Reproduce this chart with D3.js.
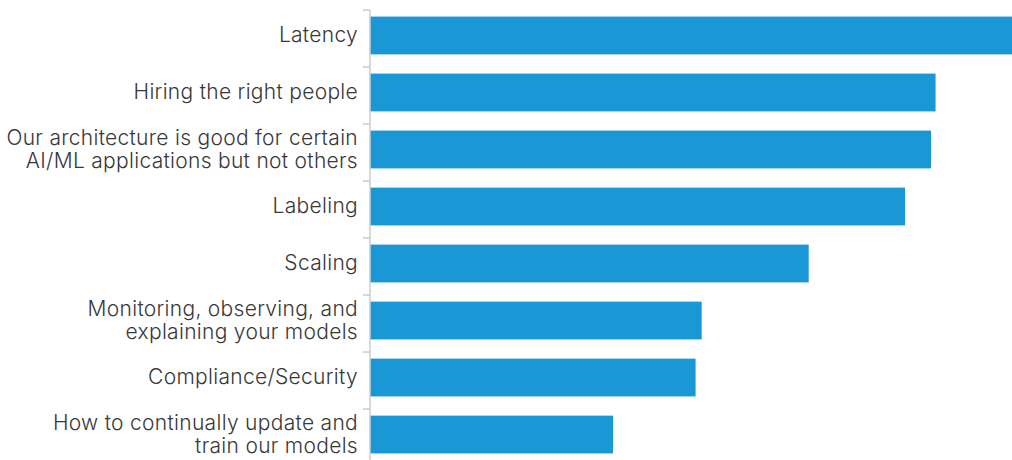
<!DOCTYPE html>
<html>
<head>
<meta charset="utf-8">
<script src="https://cdn.jsdelivr.net/npm/d3@7"></script>
<style>
  body { margin: 0; background: #fff; }
  text { font-family: Inter, "Open Sans", sans-serif; font-weight: 300; letter-spacing: 0.3px; }
</style>
</head>
<body>
<div id="chart"></div>
<script>
const categories = [
  'Latency',
  'Hiring the right people',
  'Our architecture is good for certain\nAI/ML applications but not others',
  'Labeling',
  'Scaling',
  'Monitoring, observing, and\nexplaining your models',
  'Compliance/Security',
  'How to continually update and\ntrain our models'
];
const values = [42, 37, 36.7, 35, 28.7, 21.7, 21.3, 15.9];

const width = 1012, height = 460;
const margin = {top: 7, right: 0, bottom: 0, left: 370};

const svg = d3.select('#chart').append('svg')
  .attr('width', width)
  .attr('height', height);

const x = d3.scaleLinear()
  .domain([0, 42])
  .range([margin.left, width - margin.right]);

const y = d3.scaleBand()
  .domain(categories)
  .range([margin.top, margin.top + 57 * categories.length])
  .paddingInner(0.337)
  .paddingOuter(0.168);

svg.append('g')
  .selectAll('rect')
  .data(values)
  .enter().append('rect')
  .attr('x', x(0))
  .attr('y', (d, i) => y(categories[i]))
  .attr('width', d => x(d) - x(0))
  .attr('height', y.bandwidth())
  .attr('fill', '#1a98d6');

// axis line and ticks between bands
const step = y.step();
const axis = svg.append('g');
axis.append('line')
  .attr('x1', x(0)).attr('x2', x(0))
  .attr('y1', y.range()[0] + 3).attr('y2', height)
  .attr('stroke', '#cccccc').attr('stroke-width', 1.5);
axis.selectAll('line.tick')
  .data(d3.range(categories.length + 1))
  .enter().append('line')
  .attr('class', 'tick')
  .attr('x1', x(0) - 7).attr('x2', x(0))
  .attr('y1', i => y.range()[0] + 3 + i * step)
  .attr('y2', i => y.range()[0] + 3 + i * step)
  .attr('stroke', '#cccccc').attr('stroke-width', 1.5);

const labels = svg.append('g')
  .selectAll('text')
  .data(categories)
  .enter().append('text')
  .attr('text-anchor', 'end')
  .attr('fill', '#383838')
  .style('font-size', '21px');

labels.each(function(d) {
  const lines = d.split('\n');
  const cy = y(d) + y.bandwidth() / 2 - 0.5;
  const lh = 23.5;
  const t = d3.select(this);
  lines.forEach((l, j) => {
    t.append('tspan')
      .attr('x', x(0) - 12)
      .attr('y', cy + (j - (lines.length - 1) / 2) * lh)
      .attr('dy', '0.35em')
      .text(l);
  });
});
</script>
</body>
</html>
